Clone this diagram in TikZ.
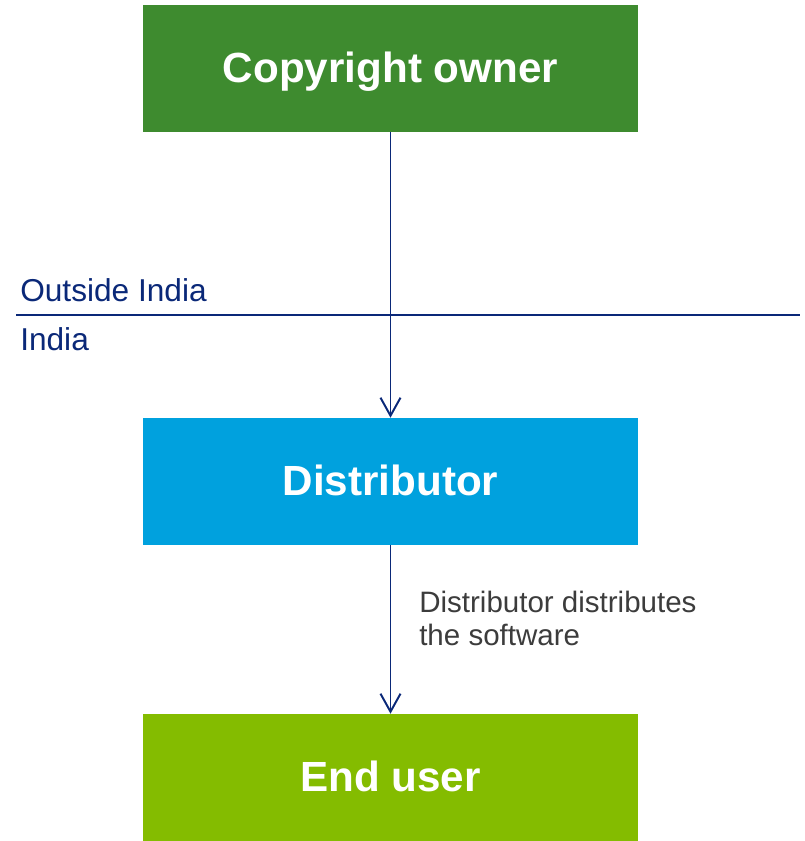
\documentclass[tikz,border=0pt]{standalone}
\usepackage{fontspec}
\setmainfont{Liberation Sans}
\usetikzlibrary{arrows.meta,positioning}

\definecolor{ownerGreen}{RGB}{62,139,47}
\definecolor{distBlue}{RGB}{0,161,222}
\definecolor{userLime}{RGB}{132,188,0}
\definecolor{lineNavy}{RGB}{10,40,120}
\definecolor{noteGray}{RGB}{60,60,60}

\begin{document}
\begin{tikzpicture}[
    >={Straight Barb[length=4.5mm,width=5mm]},
    partyBox/.style={
        rectangle,
        text=white,
        inner sep=0pt,
        text height=20pt,
        text depth=0pt,
        minimum width=12.375cm,
        minimum height=3.175cm,
        font=\fontsize{30pt}{36pt}\selectfont\bfseries
    },
    flowLine/.style={
        draw=lineNavy,
        line width=1.4pt,
        ->
    },
    regionText/.style={
        text=lineNavy,
        inner sep=0pt,
        anchor=base west,
        font=\fontsize{22.5pt}{26pt}\selectfont
    },
    noteText/.style={
        text=noteGray,
        inner sep=0pt,
        anchor=west,
        align=left,
        font=\fontsize{21pt}{23.5pt}\selectfont
    }
]
\useasboundingbox (0,0) rectangle (20.1,-21.025);

% ==================== BORDER LINE ====================
\coordinate (borderW) at (0.4,-7.875);
\coordinate (borderE) at (20.0,-7.875);
\draw[lineNavy, line width=1.4pt] (borderW) -- (borderE);
\node[regionText] (txtOutside) at (0.5,-7.55) {Outside India};
\node[regionText] (txtIndia) at (0.5,-8.75) {India};

% ==================== PARTIES ====================
\node[partyBox, fill=ownerGreen] (boxOwner) at (9.7625,-1.7125) {Copyright owner};
\node[partyBox, fill=distBlue] (boxDist) at (9.7625,-12.0375) {Distributor};
\node[partyBox, fill=userLime] (boxUser) at (9.7625,-19.4375) {End user};

\draw[flowLine] (boxOwner) -- (boxDist);
\draw[flowLine] (boxDist) -- (boxUser);

\node[noteText] (txtNote) at (10.475,-15.45) {Distributor distributes\\the software};

\end{tikzpicture}
\end{document}
